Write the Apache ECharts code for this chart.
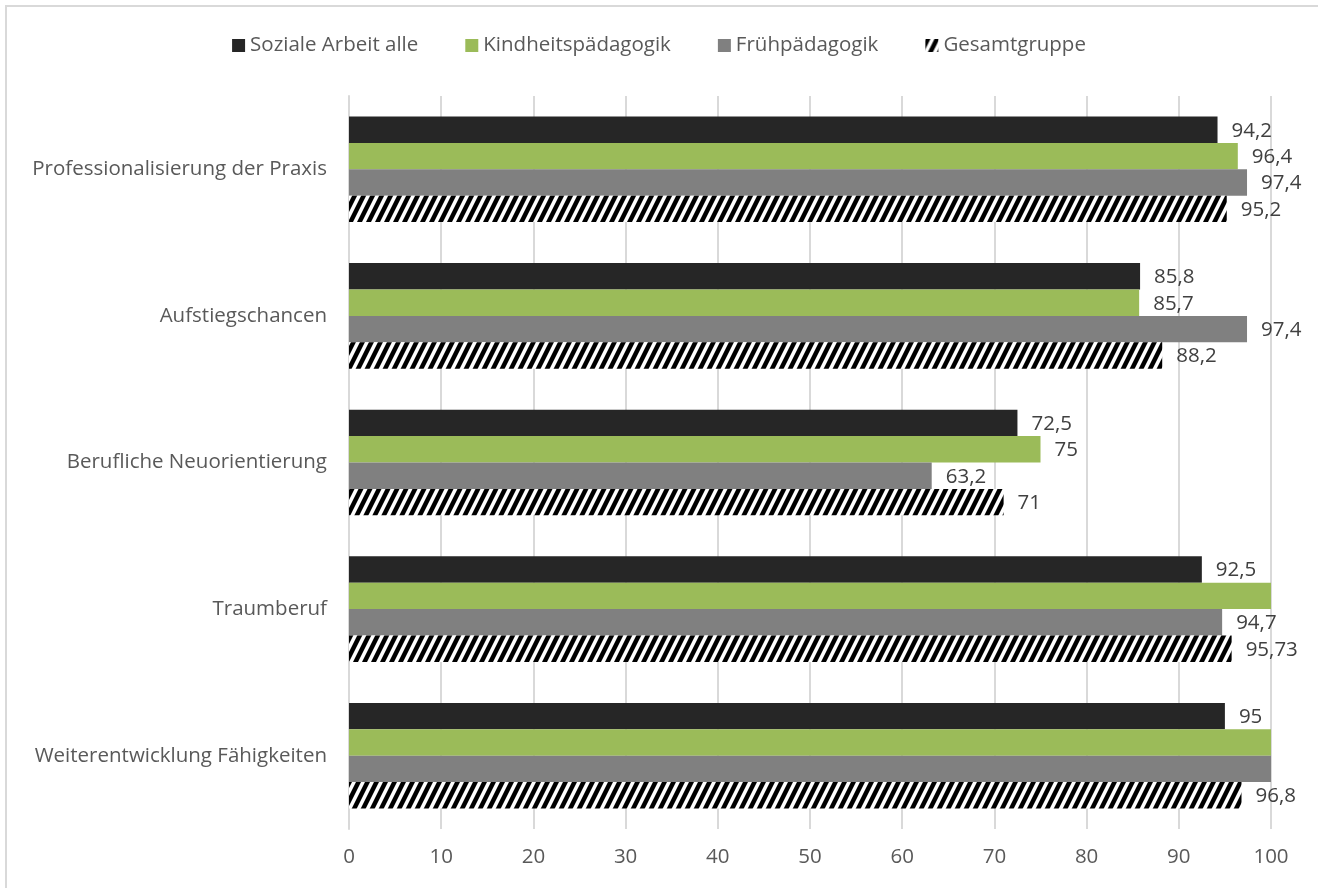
<!DOCTYPE html>
<html>
<head>
<meta charset="utf-8">
<script src="https://cdn.jsdelivr.net/npm/echarts@6/dist/echarts.min.js"></script>
<style>
html,body{margin:0;padding:0;background:#fff;}
#frame{position:absolute;left:5px;top:5px;width:1330px;height:900px;border:2px solid #d9d9d9;box-sizing:border-box;}
#chart{position:absolute;left:0;top:0;width:1318px;height:888px;}
</style>
</head>
<body>
<div id="frame"></div>
<div id="chart"></div>
<script>
const categories = ['Professionalisierung der Praxis','Aufstiegschancen','Berufliche Neuorientierung','Traumberuf','Weiterentwicklung Fähigkeiten'];
const seriesNames = ['Soziale Arbeit alle','Kindheitspädagogik','Frühpädagogik','Gesamtgruppe'];
const sozialeArbeit = [94.2, 85.8, 72.5, 92.5, 95];
const kindheit = [96.4, 85.7, 75, 100, 100];
const frueh = [97.4, 97.4, 63.2, 94.7, 100];
const gesamt = [95.2, 88.2, 71, 95.73, 96.8];
const xTicks = [0,10,20,30,40,50,60,70,80,90,100];

function hatch(){
  const c = document.createElement('canvas');
  c.width = 9; c.height = 18;
  const g = c.getContext('2d');
  g.fillStyle = '#fff'; g.fillRect(0,0,9,18);
  g.fillStyle = '#000';
  for (const a of [-18,-9,0,9]) {
    g.beginPath();
    g.moveTo(a,18); g.lineTo(a+5,18); g.lineTo(a+14,0); g.lineTo(a+9,0); g.closePath();
    g.fill();
  }
  return c;
}
const hatchPattern = {image: hatch(), repeat: 'repeat'};

const font = '"Open Sans", sans-serif';
const fs = 20.5;
const colors = ['#262626', '#9bbb59', '#808080', hatchPattern];
const dataSets = [sozialeArbeit, kindheit, frueh, gesamt];

const chart = echarts.init(document.getElementById('chart'));
chart.setOption({
  animation: false,
  legend: {
    top: 30, left: 'center',
    itemWidth: 13, itemHeight: 13, itemGap: 47,
    icon: 'rect',
    textStyle: {fontFamily: font, fontSize: fs, color: '#595959'},
    data: seriesNames
  },
  grid: {left: 349, right: 47, top: 96, bottom: 59},
  xAxis: {
    type: 'value', min: 0, max: 100, interval: 10,
    axisLine: {show: false}, axisTick: {show: false},
    axisLabel: {fontFamily: font, fontSize: fs, color: '#595959', margin: 18,
      formatter: v => xTicks.includes(v) ? String(v) : ''},
    splitLine: {lineStyle: {color: '#d9d9d9', width: 2}}
  },
  yAxis: {
    type: 'category', inverse: true, data: categories,
    axisLine: {lineStyle: {color: '#d9d9d9', width: 2}},
    axisTick: {length: 8, lineStyle: {color: '#d9d9d9', width: 2}},
    axisLabel: {fontFamily: font, fontSize: fs, color: '#595959', margin: 22}
  },
  series: seriesNames.map((n, i) => ({
    name: n, type: 'bar',
    data: dataSets[i],
    barGap: '0%', barCategoryGap: '28%',
    itemStyle: {color: colors[i]},
    label: {
      show: true, position: 'right', distance: 14, offset: [0, 1],
      fontFamily: font, fontSize: fs, color: '#404040',
      formatter: p => p.value >= 100 ? '' : String(p.value).replace('.', ',')
    }
  }))
});
</script>
</body>
</html>
